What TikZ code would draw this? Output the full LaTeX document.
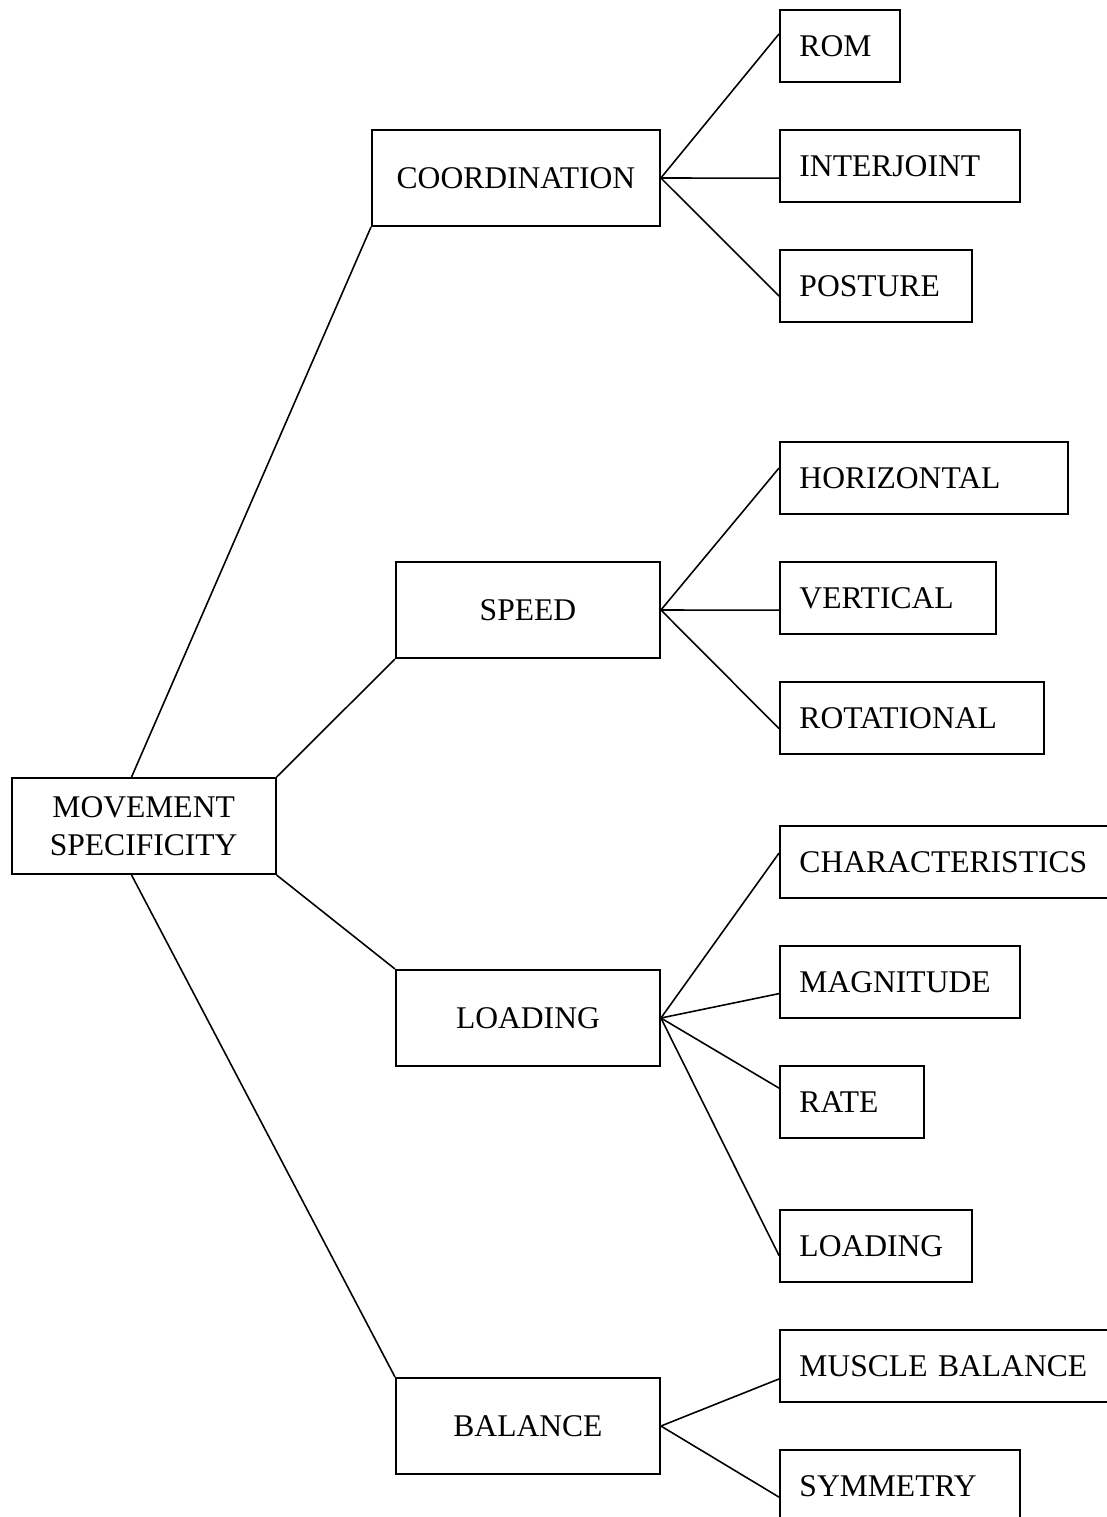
\documentclass[tikz,border=0pt]{standalone}
\usepackage{fontspec}
\setmainfont{Liberation Serif}

\begin{document}
\begin{tikzpicture}[
        x=0.38pt, y=-0.38pt,
        font=\fontsize{12pt}{14.4pt}\selectfont,
        topic/.style={rectangle, draw, line width=0.75pt, anchor=north west, minimum width=100.3pt, minimum height=36.5pt, inner sep=0pt, align=center},
        factor/.style={rectangle, draw, line width=0.75pt, anchor=north west, minimum width=100.3pt, minimum height=36.5pt, inner sep=0pt, align=center},
        aspect/.style={rectangle, draw, line width=0.75pt, anchor=north west, minimum height=27.4pt, inner xsep=7.4pt, inner ysep=0pt, text width=#1, align=left},
        link/.style={line width=0.6pt}
    ]
    \useasboundingbox (0,0) rectangle (1106,1517);

    % ROOT
    \node[topic] (movement) at (10.7,777) {MOVEMENT\\SPECIFICITY};

    % FACTORS
    \node[factor, minimum width=109.4pt] (coordination) at (371,129) {COORDINATION};
    \node[factor] (speed) at (395,561) {SPEED};
    \node[factor] (loading) at (395,969) {LOADING};
    \node[factor] (balance) at (395,1377) {BALANCE};

    % --- ASPECTS ---
    \node[aspect=30.8pt] (rom) at (779,9) {ROM};
    \node[aspect=76.4pt] (interjoint) at (779,129) {INTERJOINT};
    \node[aspect=58.1pt] (posture) at (779,249) {POSTURE};

    \node[aspect=94.6pt] (horizontal) at (779,441) {HORIZONTAL};
    \node[aspect=67.3pt] (vertical) at (779,561) {VERTICAL};
    \node[aspect=85.5pt] (rotational) at (779,681) {ROTATIONAL};

    \node[aspect=112.9pt] (characteristics) at (779,825) {CHARACTERISTICS};
    \node[aspect=76.4pt] (magnitude) at (779,945) {MAGNITUDE};
    \node[aspect=39.9pt] (rate) at (779,1065) {RATE};
    \node[aspect=58.1pt] (loadingleaf) at (779,1209) {LOADING};

    \node[aspect=112.9pt] (muscle) at (779,1329) {MUSCLE BALANCE};
    \node[aspect=76.4pt] (symmetry) at (779,1449) {SYMMETRY};

    % --- CONNECTORS ---
    \draw[link] ([xshift=-4.6pt]movement.north) -- (coordination.south west);
    \draw[link] (movement.north east) -- (speed.south west);
    \draw[link] (movement.south east) -- (loading.north west);
    \draw[link] ([xshift=-4.6pt]movement.south) -- (balance.north west);

    \draw[link] (coordination.east) -- ([yshift=4.6pt]rom.west);
    \draw[link] (coordination.east) -- ([yshift=-4.6pt]interjoint.west);
    \draw[link] (coordination.east) -- ([yshift=-3.8pt]posture.west);

    \draw[link] (speed.east) -- ([yshift=3.8pt]horizontal.west);
    \draw[link] (speed.east) -- ([yshift=-4.6pt]vertical.west);
    \draw[link] (speed.east) -- ([yshift=-4pt]rotational.west);

    \draw[link] (loading.east) -- ([yshift=3.4pt]characteristics.west);
    \draw[link] (loading.east) -- ([yshift=-4.4pt]magnitude.west);
    \draw[link] (loading.east) -- ([yshift=5.3pt]rate.west);
    \draw[link] (loading.east) -- ([yshift=-3.6pt]loadingleaf.west);

    \draw[link] (balance.east) -- ([yshift=-4.9pt]muscle.west);
    \draw[link] (balance.east) -- ([yshift=-4.2pt]symmetry.west);

\end{tikzpicture}
\end{document}
